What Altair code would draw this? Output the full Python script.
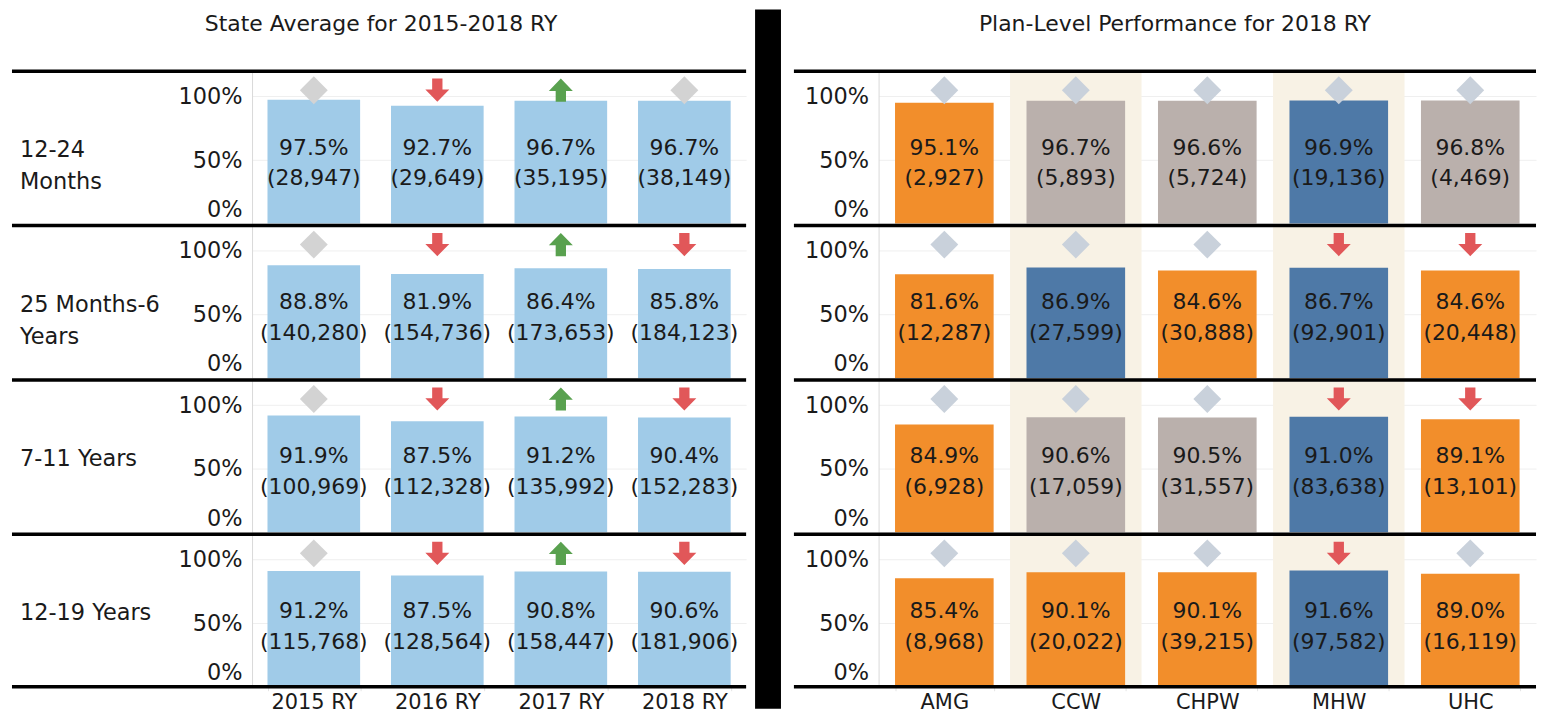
import altair as alt
import pandas as pd

# ---------------- data ----------------
groups = ["12-24 Months", "25 Months-6 Years", "7-11 Years", "12-19 Years"]
group_labels = ["12-24\nMonths", "25 Months-6\nYears", "7-11 Years", "12-19 Years"]

years = ["2015 RY", "2016 RY", "2017 RY", "2018 RY"]
state_rate = [
    [97.5, 92.7, 96.7, 96.7],
    [88.8, 81.9, 86.4, 85.8],
    [91.9, 87.5, 91.2, 90.4],
    [91.2, 87.5, 90.8, 90.6],
]
state_n = [
    [28947, 29649, 35195, 38149],
    [140280, 154736, 173653, 184123],
    [100969, 112328, 135992, 152283],
    [115768, 128564, 158447, 181906],
]
state_trend = [
    ["same", "down", "up", "same"],
    ["same", "down", "up", "down"],
    ["same", "down", "up", "down"],
    ["same", "down", "up", "down"],
]

plans = ["AMG", "CCW", "CHPW", "MHW", "UHC"]
highlighted = ["CCW", "MHW"]
plan_rate = [
    [95.1, 96.7, 96.6, 96.9, 96.8],
    [81.6, 86.9, 84.6, 86.7, 84.6],
    [84.9, 90.6, 90.5, 91.0, 89.1],
    [85.4, 90.1, 90.1, 91.6, 89.0],
]
plan_n = [
    [2927, 5893, 5724, 19136, 4469],
    [12287, 27599, 30888, 92901, 20448],
    [6928, 17059, 31557, 83638, 13101],
    [8968, 20022, 39215, 97582, 16119],
]
plan_vs_state = [
    ["below", "same", "same", "above", "same"],
    ["below", "above", "below", "above", "below"],
    ["below", "same", "same", "above", "below"],
    ["below", "below", "below", "above", "below"],
]
plan_trend = [
    ["same", "same", "same", "same", "same"],
    ["same", "same", "same", "down", "down"],
    ["same", "same", "same", "down", "down"],
    ["same", "same", "same", "down", "same"],
]
y_ticks = [0, 50, 100]

# ---------------- tables ----------------
left_rows = []
for gi, g in enumerate(groups):
    for yi, yr in enumerate(years):
        r, n = state_rate[gi][yi], state_n[gi][yi]
        left_rows.append(dict(group=g, glabel=group_labels[gi], cat=yr, rate=r,
                              label=f"{r:.1f}%\n({n:,})", trend=state_trend[gi][yi],
                              first=(yi == 0)))
left_df = pd.DataFrame(left_rows)

right_rows = []
for gi, g in enumerate(groups):
    for pi, p in enumerate(plans):
        r, n = plan_rate[gi][pi], plan_n[gi][pi]
        right_rows.append(dict(group=g, glabel=group_labels[gi], cat=p, rate=r,
                               label=f"{r:.1f}%\n({n:,})", trend=plan_trend[gi][pi],
                               vs=plan_vs_state[gi][pi], hl=(p in highlighted),
                               first=(pi == 0)))
right_df = pd.DataFrame(right_rows)

# ---------------- layout constants ----------------
H = 153
WL = 496
WR = 660
FONT = "DejaVu Sans"
TXT = "#1a1a1a"

DOWN = "M-0.37,-0.83L0.37,-0.83L0.37,-0.05L0.86,-0.05L0,0.83L-0.86,-0.05L-0.37,-0.05Z"
UP = "M-0.37,0.83L0.37,0.83L0.37,0.05L0.86,0.05L0,-0.83L-0.86,0.05L-0.37,0.05Z"


def yaxis():
    return alt.Axis(values=y_ticks, labelExpr="datum.value + '%'", title=None,
                    labelFontSize=22.5, labelColor=TXT, labelPadding=10, ticks=False,
                    domain=True, domainColor="#d9d9d9", grid=True, gridColor="#efefef",
                    labelFlush=True, labelFlushOffset=-2)


def xaxis(show):
    if not show:
        return None
    return alt.Axis(title=None, labelFontSize=21, labelColor=TXT, labelAngle=0,
                    domain=False, ticks=True, tickBand="extent", tickColor="#e4e4e4",
                    tickSize=4, labelPadding=1, grid=False)


def row_chart(df, g, cats, W, xleft, kind, diamond_color, is_last, with_label):
    xs = alt.X("cat:N", sort=cats,
               scale=alt.Scale(paddingInner=0.25, paddingOuter=0.125),
               axis=xaxis(is_last))
    ys = alt.Y("rate:Q", scale=alt.Scale(domain=[0, 120], nice=False), axis=yaxis())
    xplain = alt.X("cat:N", sort=cats)
    base = alt.Chart()
    layers = []
    if kind == "state":
        layers.append(base.mark_bar(color="#a0cbe8").encode(x=xs, y=ys))
    else:
        layers.append(base.transform_filter(alt.datum.hl)
                      .mark_bar(color="#f8f2e5", width=alt.RelativeBandSize(4 / 3))
                      .encode(x=xs, y=alt.value(0), y2=alt.value(H)))
        layers.append(base.mark_bar().encode(
            x=xplain, y=ys,
            color=alt.Color("vs:N", legend=None,
                            scale=alt.Scale(domain=["below", "same", "above"],
                                            range=["#f28e2b", "#bab0ac", "#4e79a7"]))))
    layers.append(base.mark_text(fontSize=22, lineBreak="\n", lineHeight=31, dy=-12.5,
                                 baseline="middle", color=TXT)
                  .encode(x=xplain, y=alt.datum(50), text="label:N"))
    for tr, shp, col in [("same", "diamond", diamond_color),
                         ("down", DOWN, "#e15759"),
                         ("up", UP, "#59a14f")]:
        layers.append(base.transform_filter(alt.datum.trend == tr)
                      .mark_point(shape=shp, filled=True, size=784, color=col,
                                  opacity=1, strokeWidth=0)
                      .encode(x=xplain, y=alt.datum(105)))
    rule_ys = [0, H] if is_last else [0]
    for yv in rule_ys:
        layers.append(base.transform_filter(alt.datum.first)
                      .mark_rule(color="black", strokeWidth=3.5)
                      .encode(x=alt.value(xleft), x2=alt.value(W), y=alt.value(yv)))
    if with_label:
        layers.append(base.transform_filter(alt.datum.first)
                      .mark_text(align="left", baseline="line-top", fontSize=22.5,
                                 lineHeight=32, lineBreak="\n", color=TXT)
                      .encode(x=alt.value(-233), y=alt.value(H / 2 - 13), text="glabel:N"))
    return (alt.layer(*layers, data=df)
            .transform_filter(alt.datum.group == g)
            .properties(width=W, height=H))


def panel(df, cats, W, xleft, kind, diamond_color, title, with_label, tdx):
    rows = [row_chart(df, g, cats, W, xleft, kind, diamond_color,
                      gi == len(groups) - 1, with_label)
            for gi, g in enumerate(groups)]
    return alt.vconcat(*rows, spacing=0).properties(
        title=alt.Title(title, fontSize=22, fontWeight="normal", color=TXT,
                        offset=34, anchor="middle", font=FONT, dx=tdx))


left = panel(left_df, years, WL, -241, "state", "#d3d3d3",
             "State Average for 2015-2018 RY", True, 2)
right = panel(right_df, plans, WR, -85, "plan", "#c9d1db",
              "Plan-Level Performance for 2018 RY", False, 10)

divider = (alt.Chart(pd.DataFrame({"d": [0]}))
           .mark_rect(color="black")
           .encode(x=alt.value(0), x2=alt.value(26), y=alt.value(-62), y2=alt.value(640))
           .properties(width=30, height=4 * H))

chart = (alt.hconcat(left, divider, right, spacing=7)
         .properties(padding={"left": 2, "top": 0, "right": 0, "bottom": 0})
         .configure(font=FONT)
         .configure_view(strokeWidth=0))

chart.save("out.html", embed_options={"renderer": "svg", "actions": False})
